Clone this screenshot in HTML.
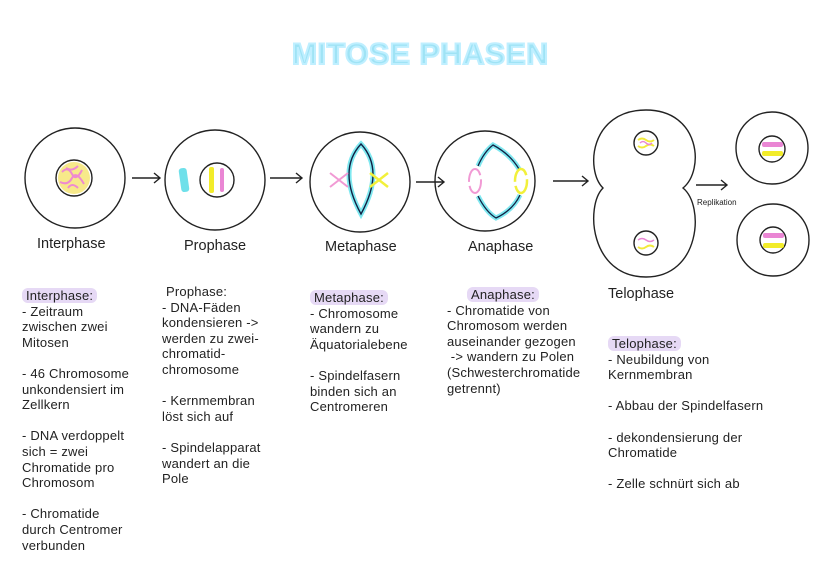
<!DOCTYPE html>
<html><head><meta charset="utf-8"><style>
body{margin:0;background:#fff;}
#c{position:relative;width:828px;height:586px;overflow:hidden;font-family:"Liberation Sans",sans-serif;color:#222;}
.t{position:absolute;font-size:13px;line-height:15.6px;white-space:pre;letter-spacing:0.2px;}
.h{background:#e6d9f5;border-radius:6px;padding:0 4px;}
.l{position:absolute;font-size:14.5px;}
</style></head><body><div id="c">
<svg width="828" height="586" style="position:absolute;left:0;top:0">
<text x="420" y="64" text-anchor="middle" textLength="256" font-family="Liberation Sans" font-weight="bold" font-size="30" fill="#9fe3f5" stroke="#bfefff" stroke-width="2">MITOSE PHASEN</text>
<g fill="none" stroke="#222" stroke-width="1.4">
<circle cx="75" cy="178" r="50"/><circle cx="74" cy="178" r="18"/>
<circle cx="215" cy="180" r="50"/><circle cx="217" cy="180" r="17"/>
<circle cx="360" cy="182" r="50"/>
<circle cx="485" cy="181" r="50"/>
<path d="M646 110 C700 110 705 170 683 188 C705 206 700 277 646 277 C590 277 585 206 603 188 C585 170 590 110 646 110Z"/>
<circle cx="646" cy="143" r="12"/><circle cx="646" cy="243" r="12"/>
<circle cx="772" cy="148" r="36"/><circle cx="772" cy="149" r="13"/>
<circle cx="773" cy="240" r="36"/><circle cx="773" cy="240" r="13"/>
<path d="M132 178h28m-6-5l6 5-6 5"/>
<path d="M270 178h32m-6-5l6 5-6 5"/>
<path d="M416 182h28m-6-5l6 5-6 5"/>
<path d="M553 181h35m-6-5l6 5-6 5"/>
<path d="M696 185h31m-6-5l6 5-6 5"/>
</g>
<path d="M361 144 Q385 170 361 214 Q337 170 361 144Z" fill="none" stroke="#7fe8f0" stroke-width="5"/>
<path d="M361 144 Q385 170 361 214 Q337 170 361 144Z" fill="none" stroke="#124" stroke-width="1.4"/>
<path d="M330 173l18 14M330 187l18-14" stroke="#f19ad4" stroke-width="2"/>
<path d="M370 173l18 14M370 187l18-14" stroke="#f2f03a" stroke-width="2.5"/>
<path d="M478 166 Q484 152 493 145 Q510 154 519 169 M478 196 Q486 212 496 218 Q513 210 520 195" fill="none" stroke="#7fe8f0" stroke-width="5"/>
<path d="M478 166 Q484 152 493 145 Q510 154 519 169 M478 196 Q486 212 496 218 Q513 210 520 195" fill="none" stroke="#124" stroke-width="1.3"/>
<ellipse cx="475" cy="181" rx="6" ry="12" fill="#fff" stroke="#f19ad4" stroke-width="2" stroke-dasharray="24 4"/>
<ellipse cx="521" cy="181" rx="6" ry="12" fill="#fff" stroke="#f2f03a" stroke-width="2.5" stroke-dasharray="24 4"/>
<circle cx="74" cy="178" r="16" fill="#f7e98a"/>
<path d="M62 172q6-6 10 2t10-4M60 182q8 4 12-4t12 6M68 188q4-6 10 0M66 168q6 4 12-2" fill="none" stroke="#ee8ad0" stroke-width="2"/>
<rect x="180" y="168" width="8" height="24" rx="3" fill="#6fe0ea" transform="rotate(-8 184 180)"/>
<rect x="209" y="167" width="5" height="26" rx="2" fill="#f2ec2a"/>
<rect x="220" y="168" width="4" height="24" rx="2" fill="#ea86d4"/>
<path d="M638 140q4-3 8 0t8 0M638 146q4 3 8 0t8 0" fill="none" stroke="#f2ea3a" stroke-width="2"/>
<path d="M640 143q3-3 6 0t6 0" fill="none" stroke="#ea86d4" stroke-width="1.5"/>
<path d="M638 240q4-3 8 0t8 0" fill="none" stroke="#ea86d4" stroke-width="1.5"/><path d="M638 247q4 3 8 0t8 0" fill="none" stroke="#f2ea3a" stroke-width="2"/>
<rect x="762" y="142" width="21" height="5" rx="2" fill="#ea86d4"/><rect x="762" y="151" width="21" height="5" rx="2" fill="#f2ec2a"/>
<rect x="763" y="233" width="21" height="5" rx="2" fill="#ea86d4"/><rect x="763" y="243" width="21" height="5" rx="2" fill="#f2ec2a"/>
<text x="697" y="205" font-family="Liberation Sans" font-size="8" fill="#222">Replikation</text>
</svg>
<div class="l" style="left:37px;top:236px">Interphase</div>
<div class="l" style="left:184px;top:238px">Prophase</div>
<div class="l" style="left:325px;top:239px">Metaphase</div>
<div class="l" style="left:468px;top:239px">Anaphase</div>
<div class="l" style="left:608px;top:286px">Telophase</div>
<div class="t" style="left:22px;top:288px"><span class="h">Interphase:</span>
- Zeitraum
zwischen zwei
Mitosen

- 46 Chromosome
unkondensiert im
Zellkern

- DNA verdoppelt
sich = zwei
Chromatide pro
Chromosom

- Chromatide
durch Centromer
verbunden</div>
<div class="t" style="left:162px;top:284px"><span style="padding:0 4px">Prophase:</span>
- DNA-Fäden
kondensieren -&gt;
werden zu zwei-
chromatid-
chromosome

- Kernmembran
löst sich auf

- Spindelapparat
wandert an die
Pole</div>
<div class="t" style="left:310px;top:290px"><span class="h">Metaphase:</span>
- Chromosome
wandern zu
Äquatorialebene

- Spindelfasern
binden sich an
Centromeren</div>
<div class="t" style="left:447px;top:287px"><span style="margin-left:20px" class="h">Anaphase:</span>
- Chromatide von
Chromosom werden
auseinander gezogen
 -&gt; wandern zu Polen
(Schwesterchromatide
getrennt)</div>
<div class="t" style="left:608px;top:336px"><span class="h">Telophase:</span>
- Neubildung von
Kernmembran

- Abbau der Spindelfasern

- dekondensierung der
Chromatide

- Zelle schnürt sich ab</div>
</div></body></html>
